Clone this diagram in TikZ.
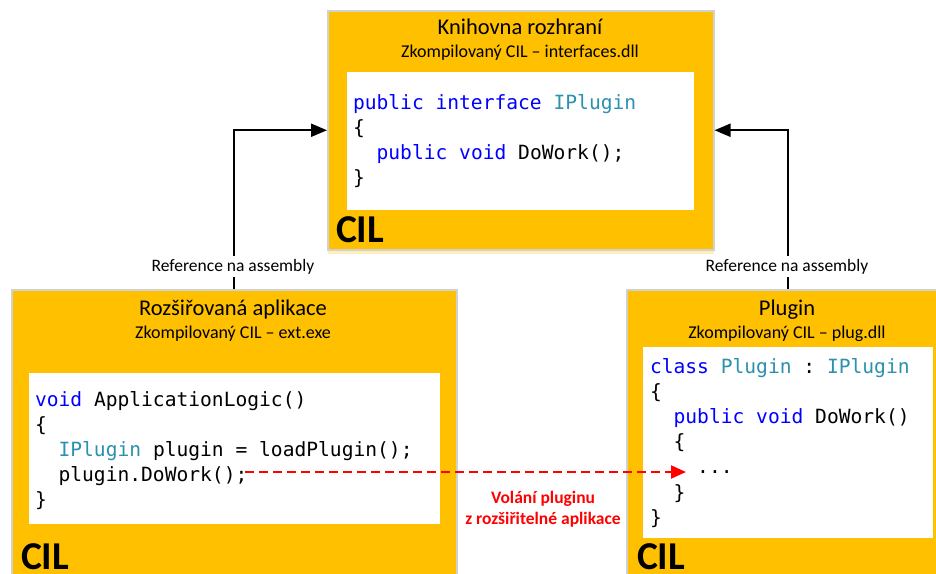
\documentclass[tikz,border=0pt]{standalone}
\usepackage{fontspec}
\setmainfont{Carlito}
\newfontfamily\codefont{DejaVu Sans Mono}
\usepackage{tikz}
\usetikzlibrary{arrows.meta,positioning,shadows}
\definecolor{cilgold}{HTML}{FFC000}
\definecolor{kwblue}{HTML}{0000FF}
\definecolor{tyteal}{HTML}{2B91AF}
\definecolor{callred}{HTML}{FF0000}
\newcommand{\kw}[1]{\textcolor{kwblue}{#1}}
\newcommand{\ty}[1]{\textcolor{tyteal}{#1}}
\newcommand{\ind}{\hphantom{xx}}

\begin{document}
\begin{tikzpicture}[x=1pt,y=-1pt
  ,>={Triangle[length=16pt,width=13pt]}
  ,line width=2pt]
  \tikzstyle{asm}=[draw=black!18,line width=1.5pt,fill=cilgold
  ,anchor=north west,inner sep=0pt]
  \tikzstyle{panel}=[fill=white,anchor=north west,inner sep=0pt]
  \tikzstyle{code}=[anchor=north west,inner sep=0pt,align=left
  ,font=\codefont\frenchspacing\fontsize{19.6}{25.2}\selectfont]
  \tikzstyle{title}=[anchor=base,inner sep=0pt,font=\fontsize{22.5}{27}\selectfont]
  \tikzstyle{subtitle}=[anchor=base,inner sep=0pt,font=\fontsize{18}{22}\selectfont]
  \tikzstyle{cil}=[anchor=base west,inner sep=0pt,font=\bfseries\fontsize{39.5}{44}\selectfont]
  \tikzstyle{refl}=[anchor=base,fill=white,inner sep=3pt,font=\fontsize{17.5}{21}\selectfont]

  \useasboundingbox (0,0) rectangle (936,573);

  % interface library on top
  \node[asm,minimum width=386pt,minimum height=239pt
  ,drop shadow={shadow xshift=0pt,shadow yshift=-4pt,opacity=.25,fill=cilgold}]
  (lib) at (327,10) {};
  \node[panel,minimum width=347pt,minimum height=138pt] (libpanel) at (346,71) {};
  \node[title] (libtitle) at (520,34) {Knihovna rozhraní};
  \node[subtitle] (libsub) at (520,57) {Zkompilovaný CIL – interfaces.dll};
  \node[code] (libcode) at (352,90.4) {\strut\kw{public interface} \ty{IPlugin}\\
    \{\\
    \ind\kw{public void} DoWork();\\
    \}};
  \node[cil] (libcil) at (335,242) {CIL};

  % extended application, bottom left
  \node[asm,minimum width=445pt,minimum height=320pt] (ext) at (11,289) {};
  \node[panel,minimum width=411pt,minimum height=151pt] (extpanel) at (28,372) {};
  \node[title] (exttitle) at (233,315) {Rozšiřovaná aplikace};
  \node[subtitle] (extsub) at (233,338) {Zkompilovaný CIL – ext.exe};
  \node[code] (extcode) at (34,387.4) {\strut\kw{void} ApplicationLogic()\\
    \{\\
    \ind\ty{IPlugin} plugin = loadPlugin();\\
    \ind plugin.DoWork();\\
    \}};
  \node[cil] (extcil) at (20,569) {CIL};

  % plugin, bottom right
  \node[asm,minimum width=322pt,minimum height=320pt] (plug) at (626,289) {};
  \node[panel,minimum width=290pt,minimum height=191pt] (plugpanel) at (642,346) {};
  \node[title] (plugtitle) at (787,315) {Plugin};
  \node[subtitle] (plugsub) at (787,338) {Zkompilovaný CIL – plug.dll};
  \node[code] (plugcode) at (649,354.4) {\strut\kw{class} \ty{Plugin} : \ty{IPlugin}\\
    \{\\
    \ind\kw{public void} DoWork()\\
    \ind\{\\
    \ind\ind...\\
    \ind\}\\
    \}};
  \node[cil] (plugcil) at (636,569) {CIL};

  % references
  \draw[->] (ext.north) |- (lib.west);
  \draw[->] (plug.north) |- (lib.east);
  \node[refl] (refext) at (233,271) {Reference na assembly};
  \node[refl] (refplug) at (787,271) {Reference na assembly};

  % call into the plugin
  \coordinate (callsrc) at (245,472);
  \coordinate (calldst) at (686,472);
  \draw[callred,dash pattern=on 9pt off 5pt
  ,-{Triangle[length=15pt,width=13pt]}] (callsrc) -- (calldst);
  \node[anchor=north,inner sep=0pt,align=center,text=callred
  ,font=\bfseries\fontsize{17.5}{21}\selectfont]
  (calltxt) at (543,487.3) {\strut Volání pluginu\\z rozšiřitelné aplikace};
\end{tikzpicture}
\end{document}
